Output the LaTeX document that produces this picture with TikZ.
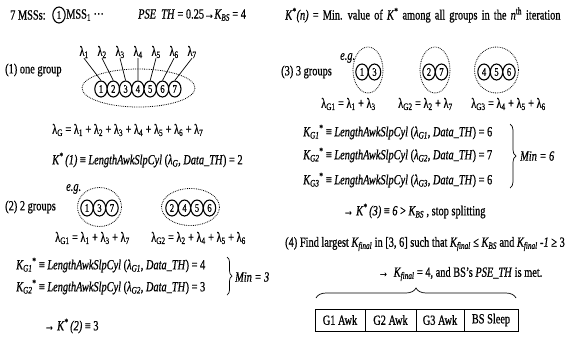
\documentclass[tikz,border=0pt]{standalone}
\usepackage{fontspec}
\setmainfont{Liberation Serif}[FakeBold=0.8]
\usepackage{graphicx}
\usetikzlibrary{shapes.geometric,decorations.pathreplacing}
\newcommand\sq[1]{\scalebox{0.74}[1]{#1}}
\newcommand\sbs[1]{\textsubscript{#1}}
\newcommand\sps[1]{\textsuperscript{#1}}
\newcommand\lam[1]{λ\textsubscript{#1}}
\newcommand\LA{\textit{LengthAwkSlpCyl}}
\begin{document}
\begin{tikzpicture}[x=1pt,y=-1pt,
  tx/.style={inner sep=0pt, anchor=west, font=\fontsize{14}{16}\selectfont},
  num/.style={ellipse, draw, line width=1.1pt, fill=white, minimum width=12.4pt, minimum height=16pt, inner sep=0pt, font=\fontsize{11.5}{13}\selectfont},
  grp/.style={draw, densely dotted, line width=0.8pt},
  lk/.style={line width=0.7pt},
  cell/.style={draw, line width=0.7pt, minimum height=22pt, inner sep=0pt, font=\fontsize{14}{16}\selectfont},
]
\useasboundingbox (0,0) rectangle (575,338);
% top row
\node[tx] (t1) at (10,15) {\sq{7 MSSs:}};
\node[num] (m1) at (59,15) {\sq{1}};
\node[tx] (t2) at (66,15) {\sq{MSS\sbs{1} ···}};
\node[tx] (t3) at (138,15) {\sq{\textit{PSE\ \ TH} = 0.25→\textit{K\sbs{BS}} = 4}};
\node[tx] (t4) at (285,15) {\sq{\spaceskip=0.4em plus 0.1em\textit{K}\sps{*}\textit{(n)} = Min. value of \textit{K}\sps{*} among all groups in the \textit{n}\sps{th} iteration}};
% (1) one group
\node[tx] (s1) at (5,70) {\sq{(1) one group}};
\draw[grp] (138.5,88) ellipse [x radius=56.5, y radius=19];
\foreach \i in {1,...,7}{
  \node[tx, anchor=center] (l\i) at ({84+18*(\i-1)},52) {\sq{\lam{\i}}};
  \node[num] (c\i) at ({101+12.3*(\i-1)},89) {\sq{\i}};
  \draw[lk] (l\i.south) -- (c\i.north);
}
\node[tx] (e1) at (52,130) {\sq{\lam{G} = \lam{1} + \lam{2} + \lam{3} + \lam{4} + \lam{5} + \lam{6} + \lam{7}}};
\node[tx] (e2) at (52,160) {\sq{\textit{K}\sps{*}\,\textit{(1)} ≡ \LA{} (\textit{\lam{G}, Data\_TH}) = 2}};
% (2) 2 groups
\node[tx] (eg1) at (66,189) {\sq{\textit{e.g.}}};
\node[tx] (s2) at (5,207) {\sq{(2) 2 groups}};
\draw[grp] (99.5,207) ellipse [x radius=22, y radius=19.5];
\node[num] (a1) at (87,208) {\sq{1}};
\node[num] (a3) at (99.5,208) {\sq{3}};
\node[num] (a7) at (112,208) {\sq{7}};
\draw[grp] (190.5,207) ellipse [x radius=29, y radius=18.5];
\node[num] (b2) at (172,208) {\sq{2}};
\node[num] (b4) at (184.5,208) {\sq{4}};
\node[num] (b5) at (197,208) {\sq{5}};
\node[num] (b6) at (209.5,208) {\sq{6}};
\node[tx] (e3) at (55,238) {\sq{\lam{G1} = \lam{1} + \lam{3} + \lam{7}}};
\node[tx] (e4) at (151,238) {\sq{\lam{G2} = \lam{2} + \lam{4} + \lam{5} + \lam{6}}};
\node[tx] (e5) at (16,265) {\sq{\textit{K\sbs{G1}}\sps{*} ≡ \LA{} (\textit{\lam{G1}, Data\_TH}) = 4}};
\node[tx] (e6) at (16,287) {\sq{\textit{K\sbs{G2}}\sps{*} ≡ \LA{} (\textit{\lam{G2}, Data\_TH}) = 3}};
\coordinate (br1a) at (227,257);
\coordinate (br1b) at (227,295);
\draw[lk, decorate, decoration={brace, amplitude=5pt}] (br1a) -- (br1b);
\node[tx] (mn1) at (235,277) {\sq{\textit{Min = 3}}};
\node[tx] (e7) at (44,326) {\sq{→ \textit{K}\sps{*}\,\textit{(2)} ≡ 3}};
% (3) 3 groups
\node[tx] (eg2) at (340,58) {\sq{\textit{e.g.}}};
\node[tx] (s3) at (281,72) {\sq{(3) 3 groups}};
\draw[grp] (368,70) ellipse [x radius=15, y radius=23];
\node[num] (d1) at (362,72) {\sq{1}};
\node[num] (d3) at (374.5,72) {\sq{3}};
\draw[grp] (435,70) ellipse [x radius=15, y radius=23];
\node[num] (f2) at (429,72) {\sq{2}};
\node[num] (f7) at (441.5,72) {\sq{7}};
\draw[grp] (496.5,70) ellipse [x radius=22, y radius=23];
\node[num] (g4) at (484,72) {\sq{4}};
\node[num] (g5) at (496.5,72) {\sq{5}};
\node[num] (g6) at (509,72) {\sq{6}};
\node[tx] (r1) at (321,104) {\sq{\lam{G1} = \lam{1} + \lam{3}}};
\node[tx] (r2) at (398,104) {\sq{\lam{G2} = \lam{2} + \lam{7}}};
\node[tx] (r3) at (471,104) {\sq{\lam{G3} = \lam{4} + \lam{5} + \lam{6}}};
\node[tx] (r4) at (303,132) {\sq{\textit{K\sbs{G1}}\sps{*} ≡ \LA{} (\textit{\lam{G1}, Data\_TH}) = 6}};
\node[tx] (r5) at (303,155) {\sq{\textit{K\sbs{G2}}\sps{*} ≡ \LA{} (\textit{\lam{G2}, Data\_TH}) = 7}};
\node[tx] (r6) at (303,180) {\sq{\textit{K\sbs{G3}}\sps{*} ≡ \LA{} (\textit{\lam{G3}, Data\_TH}) = 6}};
\coordinate (br2a) at (510,124);
\coordinate (br2b) at (510,188);
\draw[lk, decorate, decoration={brace, amplitude=6pt}] (br2a) -- (br2b);
\node[tx] (mn2) at (520,156) {\sq{\textit{Min = 6}}};
\node[tx] (r7) at (343,211) {\sq{→ \textit{K}\sps{*}\,\textit{(3)} ≡ \textit{6} > \textit{K\sbs{BS}} , stop splitting}};
% (4)
\node[tx] (r8) at (285,244) {\sq{(4) Find largest \textit{K\sbs{final}} in [3, 6] such that \textit{K\sbs{final}} ≤ \textit{K\sbs{BS}} and \textit{K\sbs{final} -1} ≥ 3}};
\node[tx] (r9) at (378,274) {\sq{→\ \ \textit{K\sbs{final}} = 4, and BS's \textit{PSE\_TH} is met.}};
\coordinate (br3a) at (316,298);
\coordinate (br3b) at (516,298);
\draw[lk, decorate, decoration={brace, amplitude=10pt}] (br3a) -- (br3b);
\node[cell, minimum width=50pt] (k1) at (340,320) {\sq{G1 Awk}};
\node[cell, minimum width=51pt] (k2) at (390.5,320) {\sq{G2 Awk}};
\node[cell, minimum width=48pt] (k3) at (440,320) {\sq{G3 Awk}};
\node[cell, minimum width=54pt] (k4) at (491,320) {\sq{BS Sleep}};
\end{tikzpicture}
\end{document}
